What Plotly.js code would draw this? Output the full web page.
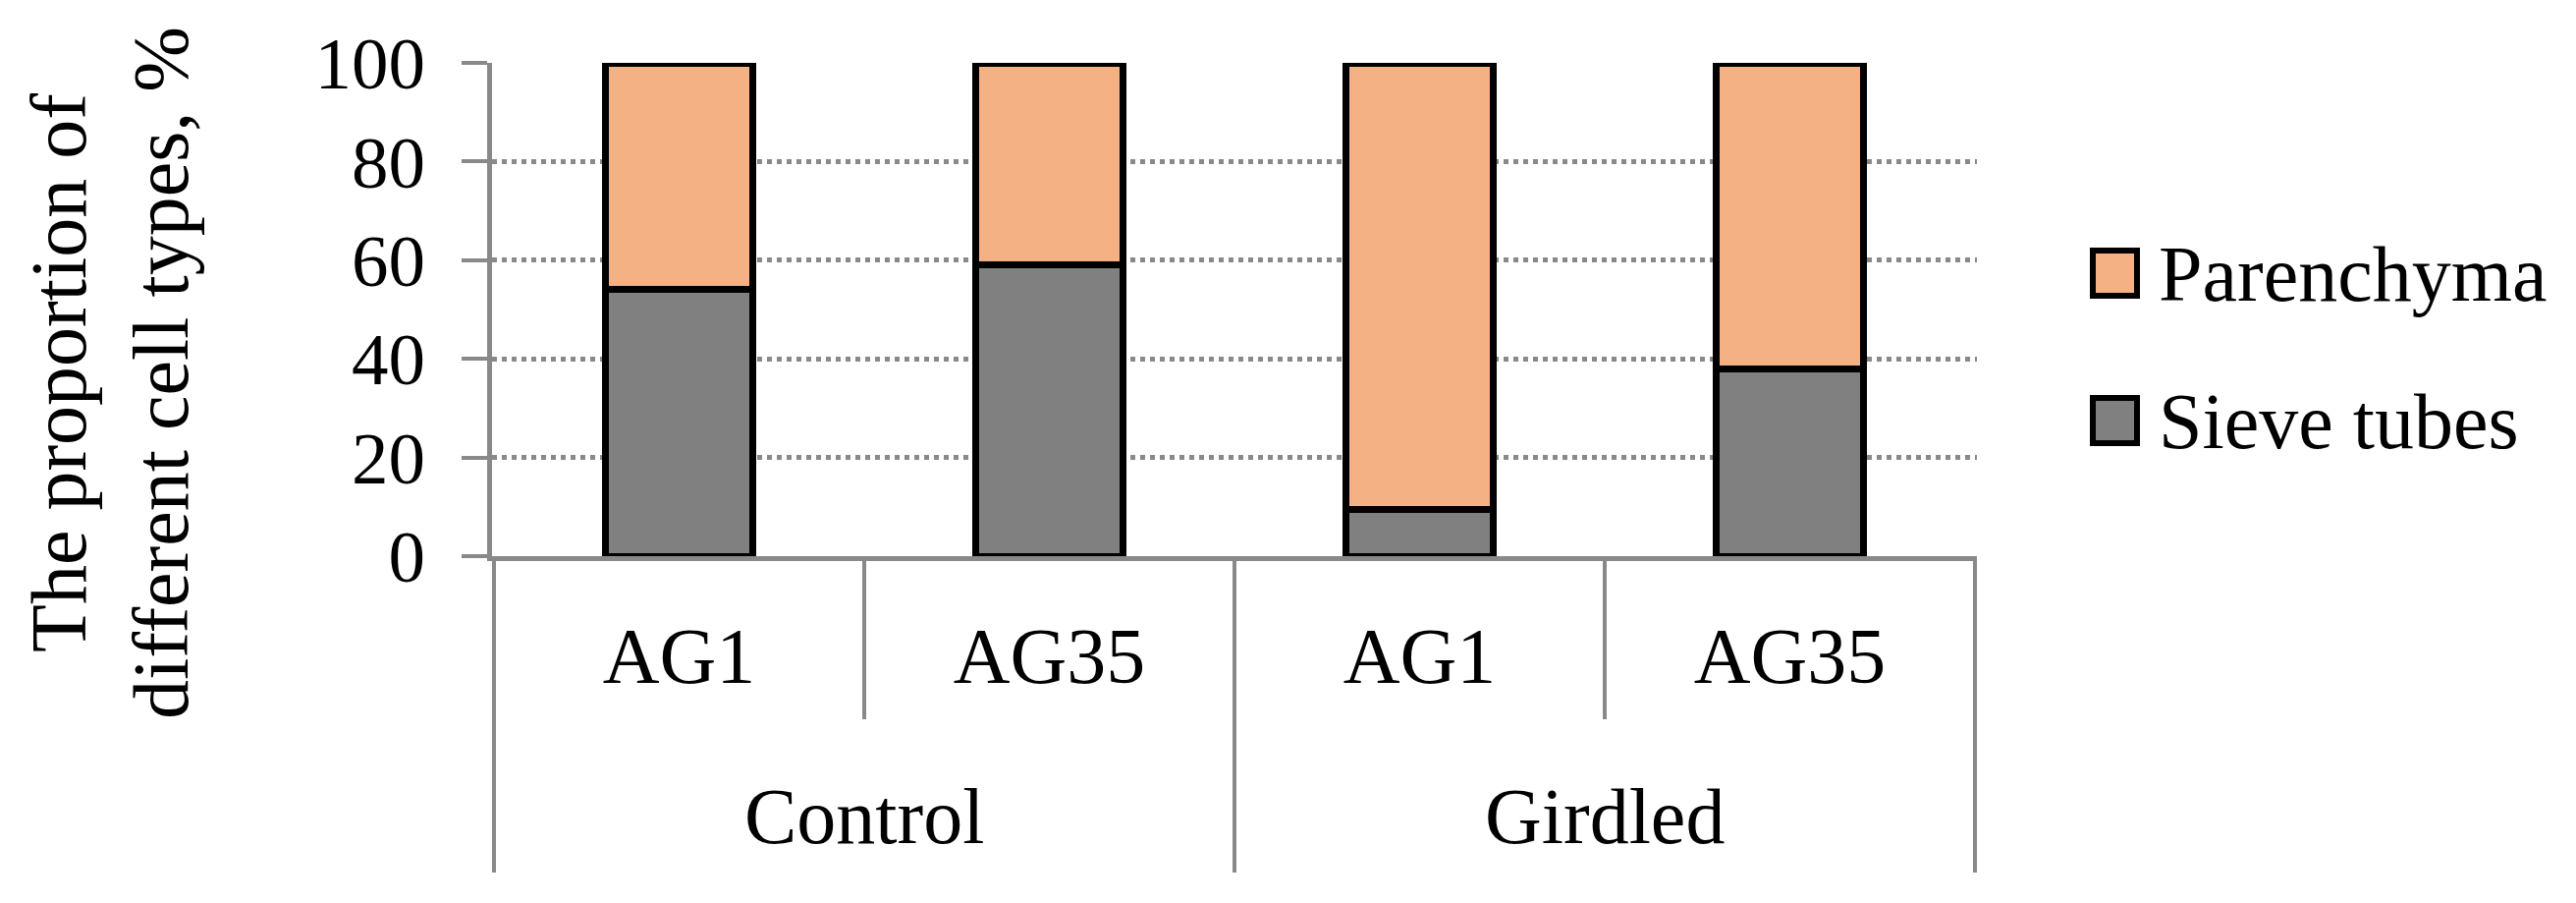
<!DOCTYPE html>
<html><head><meta charset="utf-8">
<script src="https://cdn.plot.ly/plotly-3.0.1.min.js"></script>
<style>html,body{margin:0;padding:0;background:#fff}</style>
</head><body><div id="chart" style="width:2623px;height:919px"></div>
<script>
// ---- data ----
const treatments = ["Control", "Control", "Girdled", "Girdled"];
const genotypes = ["AG1", "AG35", "AG1", "AG35"];
const sieveTubes = [54, 59, 9.5, 38];
const parenchyma = [46, 41, 90.5, 62];
const seriesNames = ["Sieve tubes", "Parenchyma"];
const seriesColors = ["#808080", "#F4B183"];
const yTickVals = [0, 20, 40, 60, 80, 100];
const yTitleLines = ["The proportion of", "different cell types, %"];

// ---- layout helpers ----
const W = 2623, H = 919;
const L = 501, R = 2013, T = 64, B = 566;
const px = v => (v - L) / (R - L);
const py = v => (B - v) / (B - T);
const GRAY = "#898989";
const FONT = "Liberation Serif";

// unique category keys, shown with genotype labels
const xKeys = treatments.map((t, i) => t + " " + genotypes[i]);

const traces = [sieveTubes, parenchyma].map((vals, i) => ({
  type: "bar",
  name: seriesNames[i],
  x: xKeys,
  y: vals,
  marker: { color: seriesColors[i], line: { color: "#000", width: 7 } },
  showlegend: false,
  hoverinfo: "skip"
}));

// group structure (from treatments array)
const groups = [];
treatments.forEach((t, i) => {
  const g = groups.length && groups[groups.length - 1].name === t ? groups[groups.length - 1] : null;
  if (g) g.end = i; else groups.push({ name: t, start: i, end: i });
});

const shapes = [];
const annotations = [];

// group dividers
const dividerPos = [groups[0].start - 0.5].concat(groups.map(g => g.end + 0.5));
dividerPos.forEach(xv => shapes.push({
  type: "line", xref: "x", yref: "paper", x0: xv, x1: xv, y0: 0, y1: py(888),
  line: { color: GRAY, width: 4 }, layer: "above"
}));
// group labels
groups.forEach(g => annotations.push({
  xref: "x", yref: "paper", x: (g.start + g.end) / 2, y: py(831),
  xanchor: "center", yanchor: "middle", showarrow: false,
  text: g.name, font: { family: FONT, size: 80, color: "#000" }
}));

// manual legend (top: Parenchyma, bottom: Sieve tubes)
const legendRows = [
  { idx: 1, top: 255, bottom: 301, mid: 279 },
  { idx: 0, top: 405, bottom: 451, mid: 429 }
];
legendRows.forEach(r => {
  shapes.push({
    type: "rect", xref: "paper", yref: "paper",
    x0: px(2131), x1: px(2176), y0: py(r.bottom), y1: py(r.top),
    fillcolor: seriesColors[r.idx], line: { color: "#000", width: 6 }
  });
  annotations.push({
    xref: "paper", yref: "paper", x: px(2196), y: py(r.mid),
    xanchor: "left", yanchor: "middle", showarrow: false,
    text: seriesNames[r.idx], font: { family: FONT, size: 80, color: "#000" }
  });
});

// y-axis title
annotations.push({
  xref: "paper", yref: "paper", x: px(112), y: py(380),
  xanchor: "center", yanchor: "middle", showarrow: false, textangle: -90,
  text: yTitleLines.join("<br>"), font: { family: FONT, size: 80, color: "#000" }
});

const layout = {
  width: W, height: H,
  margin: { l: L, r: W - R, t: T, b: H - B, pad: 0 },
  paper_bgcolor: "#fff", plot_bgcolor: "#fff",
  barmode: "stack", bargap: 0.6,
  font: { family: FONT, color: "#000" },
  xaxis: {
    type: "category",
    tickvals: xKeys, ticktext: genotypes,
    showline: true, linecolor: GRAY, linewidth: 5,
    ticks: "outside", tickson: "boundaries", ticklen: 161, tickwidth: 4, tickcolor: GRAY,
    ticklabelstandoff: 28,
    showgrid: false, zeroline: false,
    tickfont: { family: FONT, size: 80, color: "#000" }
  },
  yaxis: {
    range: [0, 100], tickvals: yTickVals, ticktext: yTickVals.map(String),
    showline: true, linecolor: GRAY, linewidth: 5,
    ticks: "outside", ticklen: 26, tickwidth: 4, tickcolor: GRAY,
    ticklabelstandoff: 22,
    showgrid: true, gridcolor: GRAY, gridwidth: 5, griddash: "dot",
    zeroline: false,
    tickfont: { family: FONT, size: 75, color: "#000" }
  },
  shapes: shapes,
  annotations: annotations,
  showlegend: false
};

Plotly.newPlot("chart", traces, layout, { displayModeBar: false, staticPlot: true });
</script></body></html>
